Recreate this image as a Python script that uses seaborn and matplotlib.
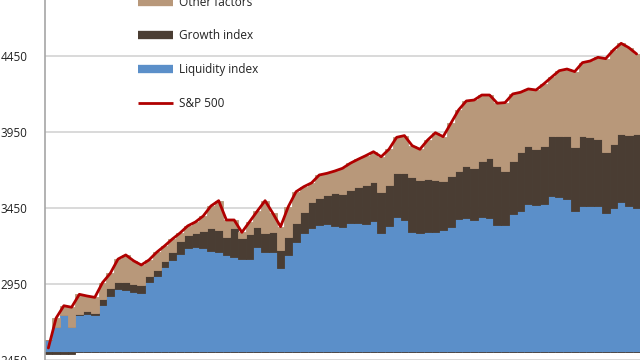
import numpy as np
import pandas as pd
import matplotlib
matplotlib.use("Agg")
import matplotlib.pyplot as plt
from matplotlib.lines import Line2D
import seaborn as sns

# ---- data ----
base_level = 2500
liquidity = [82, 167, 246, 169, 246, 253, 246, 312, 370, 415,
             410, 395, 390, 460, 500, 560, 610, 650, 685, 695,
             685, 670, 660, 640, 630, 614, 614, 695, 663, 663,
             553, 641, 728, 783, 816, 838, 842, 833, 827, 853,
             849, 845, 866, 787, 831, 889, 871, 794, 787, 790,
             794, 805, 827, 878, 886, 871, 889, 886, 838, 838,
             908, 932, 976, 970, 976, 1029, 1020, 1009, 932, 963,
             961, 961, 915, 948, 987, 965, 948]
growth = [-13, -12, -10, -10, 9, 19, 15, 39, 55, 50,
          52, 57, 55, 40, 40, 40, 50, 80, 85, 90,
          115, 148, 145, 121, 188, 136, 166, 132, 120, 127,
          121, 120, 121, 143, 176, 176, 194, 218, 215, 215,
          237, 256, 257, 270, 270, 289, 312, 362, 347, 350,
          341, 325, 333, 317, 342, 340, 370, 391, 390, 357,
          351, 384, 384, 368, 384, 395, 406, 415, 417, 461,
          454, 441, 405, 423, 448, 465, 489]
other = [0, 59, 61, 128, 127, 99, 101, 108, 95, 149,
         179, 151, 130, 108, 119, 100, 85, 55, 62, 73,
         97, 145, 193, 110, 53, 40, 80, 103, 215, 125,
         153, 198, 208, 164, 123, 153, 142, 142, 169, 176,
         184, 193, 197, 230, 235, 237, 243, 204, 202, 257,
         310, 289, 347, 400, 426, 449, 434, 416, 411, 448,
         441, 395, 373, 388, 406, 386, 427, 440, 498, 482,
         502, 539, 612, 618, 598, 574, 526]
sp500 = [2529, 2726, 2807, 2797, 2882, 2871, 2862, 2959, 3020, 3114,
         3141, 3103, 3075, 3108, 3159, 3200, 3245, 3285, 3332, 3358,
         3397, 3463, 3498, 3371, 3371, 3290, 3360, 3430, 3498, 3415,
         3327, 3459, 3557, 3590, 3615, 3667, 3678, 3693, 3711, 3744,
         3770, 3794, 3820, 3787, 3836, 3915, 3926, 3860, 3836, 3897,
         3945, 3919, 4007, 4095, 4154, 4160, 4193, 4193, 4139, 4143,
         4200, 4211, 4233, 4226, 4266, 4310, 4353, 4364, 4347, 4406,
         4417, 4441, 4432, 4489, 4533, 4504, 4463]
yticks = [2450, 2950, 3450, 3950, 4450]
labels = ["Other factors", "Growth index", "Liquidity index", "S&P 500"]

c_liq = "#5B8FC9"
c_gro = "#4A3D33"
c_oth = "#B8987A"
c_sp = "#B00000"

df = pd.DataFrame({"week": np.arange(len(sp500)), "liq": liquidity,
                   "gro": growth, "oth": other, "sp": sp500})

sns.set_theme(style="white")
plt.rcParams["font.family"] = ["Open Sans", "DejaVu Sans"]

fig = plt.figure(figsize=(6.4, 3.6), dpi=100)
ax = fig.add_axes([44.5 / 640, 0, 596 / 640, 1])

x = df["week"].values
liq = df["liq"].values
gro = df["gro"].values
oth = df["oth"].values
gpos = np.maximum(gro, 0)
gneg = np.minimum(gro, 0)

kw = dict(width=1.0, linewidth=0.6, zorder=2)
ax.bar(x, liq, bottom=base_level, color=c_liq, edgecolor=c_liq, **kw)
ax.bar(x, gpos, bottom=base_level + liq, color=c_gro, edgecolor=c_gro, **kw)
ax.bar(x, gneg, bottom=base_level, color=c_gro, edgecolor=c_gro, **kw)
ax.bar(x, np.maximum(oth, 0), bottom=base_level + liq + gpos,
       color=c_oth, edgecolor=c_oth, **kw)

sns.lineplot(data=df, x="week", y="sp", ax=ax, color=c_sp, linewidth=2.0,
             zorder=4, legend=False)

ax.set_xlim(-0.5, len(sp500) - 0.5)
ax.set_ylim(2450, 4818)
ax.set_yticks(yticks)
ax.set_yticklabels([str(v) for v in yticks], fontsize=8.5, color="#222222")
ax.set_xticks([])
ax.set_xlabel("")
ax.set_ylabel("")
ax.yaxis.grid(True, color="#D9D9D9", linewidth=1.4, zorder=0)
ax.set_axisbelow(True)
for s in ["top", "right", "bottom"]:
    ax.spines[s].set_visible(False)
ax.spines["left"].set_color("#A6A6A6")
ax.spines["left"].set_linewidth(1.2)
ax.tick_params(axis="y", length=0, pad=12)

handles = [Line2D([], [], color=c_oth, linewidth=6, solid_capstyle="butt"),
           Line2D([], [], color=c_gro, linewidth=6, solid_capstyle="butt"),
           Line2D([], [], color=c_liq, linewidth=6, solid_capstyle="butt"),
           Line2D([], [], color=c_sp, linewidth=2.0, solid_capstyle="butt")]
ax.legend(handles, labels, loc="upper left",
          bbox_to_anchor=((138 - 44.5) / 596, 1.012), frameon=False,
          fontsize=8.5, handlelength=3.0, handletextpad=0.45,
          labelspacing=1.75, borderpad=0, borderaxespad=0,
          labelcolor="#222222")

fig.savefig("out.png", dpi=100)
